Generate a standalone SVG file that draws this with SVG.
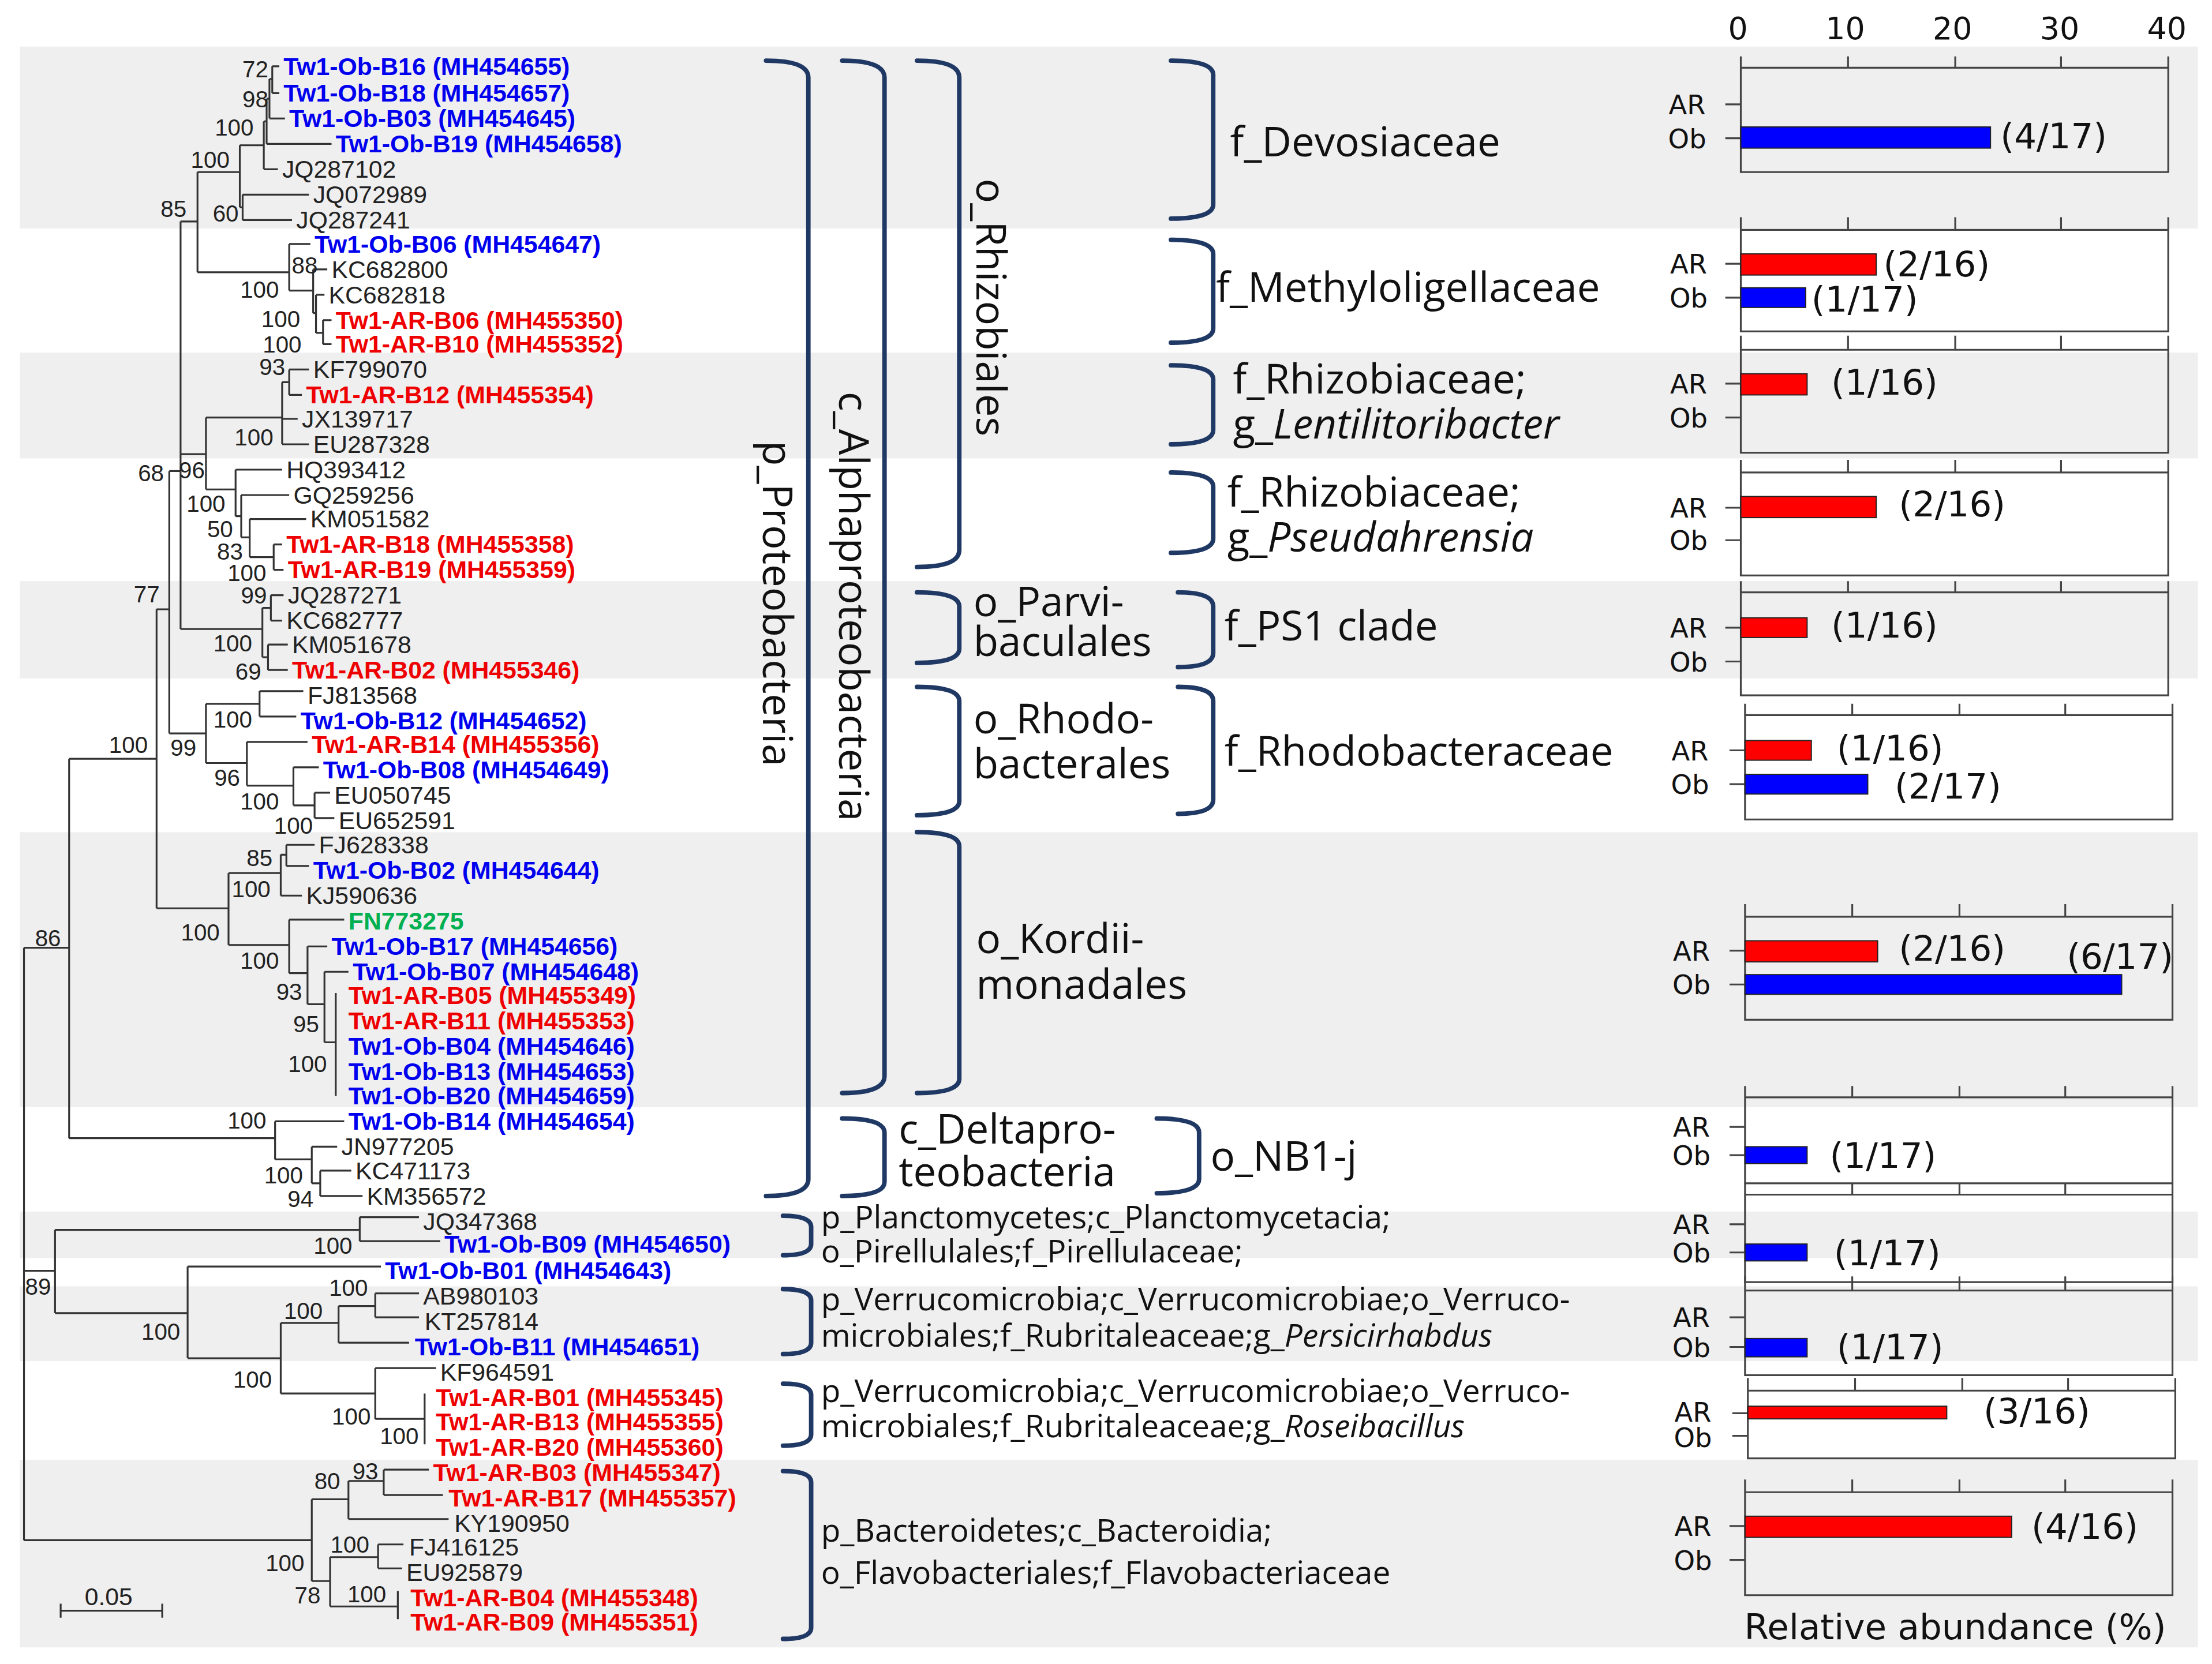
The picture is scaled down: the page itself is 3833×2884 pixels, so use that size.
<svg xmlns="http://www.w3.org/2000/svg" width="3833" height="2884" viewBox="0 0 3833 2884">
<style>
.band{fill:#efefef}
.tree{fill:none;stroke:#333;stroke-width:1.3}
.br{fill:none;stroke:#1f3864;stroke-width:3.2;stroke-linecap:round}
.lf{font-family:"Liberation Sans",Arial,sans-serif;font-size:17.5px;fill:#222}
.b{fill:#0000ee;font-weight:bold}
.r{fill:#ee0000;font-weight:bold}
.g{fill:#00b050;font-weight:bold}
.bs{font-family:"Liberation Sans",Arial,sans-serif;font-size:16.5px;fill:#222;text-anchor:middle}
.tx{font-family:"Open Sans","Noto Sans",sans-serif;font-size:29px;fill:#111}
.tx2{font-family:"Open Sans","Noto Sans",sans-serif;font-size:22.5px;fill:#111}
.ax{fill:none;stroke:#444;stroke-width:1.3}
.pl{font-family:"DejaVu Sans",sans-serif;font-size:19px;fill:#111}
.ab{font-family:"DejaVu Sans",sans-serif;font-size:25px;fill:#111}
.tk{font-family:"DejaVu Sans",sans-serif;font-size:22px;fill:#111}
.rb{fill:#ff0000;stroke:#222;stroke-width:0.8}
.bb{fill:#0000ff;stroke:#222;stroke-width:0.8}
</style>
<rect width="3833" height="2884" fill="#fff"/>
<g transform="scale(2.4445)">
<g id="bands">
<rect class="band" x="14" y="33" width="1544" height="129"/>
<rect class="band" x="14" y="250" width="1544" height="75"/>
<rect class="band" x="14" y="412" width="1544" height="69"/>
<rect class="band" x="14" y="590" width="1544" height="195"/>
<rect class="band" x="14" y="859" width="1544" height="33"/>
<rect class="band" x="14" y="912" width="1544" height="53"/>
<rect class="band" x="14" y="1035" width="1544" height="133"/>
</g>
<g id="connectors">
<path class="tree" d="M193 47V66M193 47H198M193 66H198M191 56V84M191 56H193M191 84H202M189 70V102M189 70H191M189 102H235M187 86V120M187 86H189M187 120H197M172 138V156M172 138H219M172 156H207M170 103V147M170 103H187M170 147H172M140 122H170
M229 227V244M229 227H235M229 244H235M224 209V236M224 209H230M224 236H229M222 191V222M222 191H232M222 222H224M205 173V206M205 173H220M205 206H222M140 193H205M140 122V193M128 157H140
M205 262V280M205 262H219M205 280H214M200 271V315M200 271H205M200 297H211M200 315H219M146 296H200
M194 386V404M194 386H200M194 404H201M177 368V395M177 368H217M177 395H194M171 351V381M171 351H205M171 381H177M167 333V366M167 333H200M167 366H171M146 296V347M146 347H167M128 322H146
M192 422V440M192 422H201M192 440H200M190 457V475M190 457H204M190 475H204M186 431V466M186 431H192M186 466H190M128 446H186M128 157V446M120 334H128
M184 490V508M184 490H215M184 508H210M146 499V541M146 499H184M146 541H175M175 526V557M175 526H218M175 557H208M208 544V571M208 544H226M208 571H223M223 562V580M223 562H234M223 580H237M120 520H146M120 334V520M111 432H120
M203 599V614M203 599H223M203 614H219M199 606V635M199 606H203M199 635H214M162 619V670M162 619H199M162 670H205M205 652V690M205 652H244M205 690H218M218 671V712M218 671H232M218 712H230M230 689V739M230 689H247M230 739H238M238 704V777M111 644H162M111 432V644M49 538H111
M195 795V822M195 795H244M221 813V839M221 813H239M227 830V848M227 830H249M227 848H257M221 839H227M195 822H221M49 807H195M49 538V807M17 672H49
M255 863V880M255 863H297M255 880H312M39 872H255M39 872V931M17 901H39M39 931H133M133 898V963M133 898H270M133 963H199M199 938V988M199 938H240M240 926V952M240 952H290M266 917V934M266 917H297M266 934H297M240 926H266M199 988H266M266 970V1006M266 970H309M266 1006H301M301 988V1024
M17 672V1092M17 1092H221M221 1063V1121M221 1063H247M247 1050V1077M247 1077H318M247 1050H272M272 1042V1060M272 1042H304M272 1060H314M221 1121H234M234 1104V1139M234 1104H268M268 1095V1112M268 1095H286M268 1112H285M234 1139H282M282 1128V1148
M43 1142H115M43 1137V1147M115 1137V1147"/>
</g>
<g id="leaves" class="lf">
<text x="201" y="53" class="b">Tw1-Ob-B16 (MH454655)</text>
<text x="201" y="72" class="b">Tw1-Ob-B18 (MH454657)</text>
<text x="205" y="90" class="b">Tw1-Ob-B03 (MH454645)</text>
<text x="238" y="108" class="b">Tw1-Ob-B19 (MH454658)</text>
<text x="200" y="126">JQ287102</text>
<text x="222" y="144">JQ072989</text>
<text x="210" y="162">JQ287241</text>
<text x="223" y="179" class="b">Tw1-Ob-B06 (MH454647)</text>
<text x="235" y="197">KC682800</text>
<text x="233" y="215">KC682818</text>
<text x="238" y="233" class="r">Tw1-AR-B06 (MH455350)</text>
<text x="238" y="250" class="r">Tw1-AR-B10 (MH455352)</text>
<text x="222" y="268">KF799070</text>
<text x="217" y="286" class="r">Tw1-AR-B12 (MH455354)</text>
<text x="214" y="303">JX139717</text>
<text x="222" y="321">EU287328</text>
<text x="203" y="339">HQ393412</text>
<text x="208" y="357">GQ259256</text>
<text x="220" y="374">KM051582</text>
<text x="203" y="392" class="r">Tw1-AR-B18 (MH455358)</text>
<text x="204" y="410" class="r">Tw1-AR-B19 (MH455359)</text>
<text x="204" y="428">JQ287271</text>
<text x="203" y="446">KC682777</text>
<text x="207" y="463">KM051678</text>
<text x="207" y="481" class="r">Tw1-AR-B02 (MH455346)</text>
<text x="218" y="499">FJ813568</text>
<text x="213" y="517" class="b">Tw1-Ob-B12 (MH454652)</text>
<text x="221" y="534" class="r">Tw1-AR-B14 (MH455356)</text>
<text x="229" y="552" class="b">Tw1-Ob-B08 (MH454649)</text>
<text x="237" y="570">EU050745</text>
<text x="240" y="588">EU652591</text>
<text x="226" y="605">FJ628338</text>
<text x="222" y="623" class="b">Tw1-Ob-B02 (MH454644)</text>
<text x="217" y="641">KJ590636</text>
<text x="247" y="659" class="g">FN773275</text>
<text x="235" y="677" class="b">Tw1-Ob-B17 (MH454656)</text>
<text x="250" y="695" class="b">Tw1-Ob-B07 (MH454648)</text>
<text x="247" y="712" class="r">Tw1-AR-B05 (MH455349)</text>
<text x="247" y="730" class="r">Tw1-AR-B11 (MH455353)</text>
<text x="247" y="748" class="b">Tw1-Ob-B04 (MH454646)</text>
<text x="247" y="766" class="b">Tw1-Ob-B13 (MH454653)</text>
<text x="247" y="783" class="b">Tw1-Ob-B20 (MH454659)</text>
<text x="247" y="801" class="b">Tw1-Ob-B14 (MH454654)</text>
<text x="242" y="819">JN977205</text>
<text x="252" y="836">KC471173</text>
<text x="260" y="854">KM356572</text>
<text x="300" y="872">JQ347368</text>
<text x="315" y="888" class="b">Tw1-Ob-B09 (MH454650)</text>
<text x="273" y="907" class="b">Tw1-Ob-B01 (MH454643)</text>
<text x="300" y="925">AB980103</text>
<text x="301" y="943">KT257814</text>
<text x="294" y="961" class="b">Tw1-Ob-B11 (MH454651)</text>
<text x="312" y="979">KF964591</text>
<text x="309" y="997" class="r">Tw1-AR-B01 (MH455345)</text>
<text x="309" y="1014" class="r">Tw1-AR-B13 (MH455355)</text>
<text x="309" y="1032" class="r">Tw1-AR-B20 (MH455360)</text>
<text x="307" y="1050" class="r">Tw1-AR-B03 (MH455347)</text>
<text x="318" y="1068" class="r">Tw1-AR-B17 (MH455357)</text>
<text x="322" y="1086">KY190950</text>
<text x="290" y="1103">FJ416125</text>
<text x="288" y="1121">EU925879</text>
<text x="291" y="1139" class="r">Tw1-AR-B04 (MH455348)</text>
<text x="291" y="1156" class="r">Tw1-AR-B09 (MH455351)</text>
<text x="60" y="1138">0.05</text>
</g>
<g id="bootstrap" class="bs">
<text x="181" y="55">72</text><text x="181" y="76">98</text><text x="166" y="96">100</text><text x="149" y="119">100</text>
<text x="123" y="154">85</text><text x="160" y="157">60</text><text x="216" y="194">88</text><text x="184" y="211">100</text>
<text x="199" y="232">100</text><text x="200" y="250">100</text><text x="193" y="266">93</text><text x="180" y="316">100</text>
<text x="107" y="341">68</text><text x="136" y="339">96</text><text x="146" y="363">100</text><text x="156" y="381">50</text>
<text x="163" y="397">83</text><text x="175" y="412">100</text><text x="104" y="427">77</text><text x="180" y="428">99</text>
<text x="165" y="462">100</text><text x="176" y="482">69</text><text x="165" y="516">100</text><text x="91" y="534">100</text>
<text x="130" y="536">99</text><text x="161" y="557">96</text><text x="184" y="574">100</text><text x="208" y="591">100</text>
<text x="184" y="614">85</text><text x="178" y="636">100</text><text x="142" y="667">100</text><text x="34" y="671">86</text>
<text x="184" y="687">100</text><text x="205" y="709">93</text><text x="217" y="732">95</text><text x="218" y="760">100</text>
<text x="175" y="800">100</text><text x="201" y="839">100</text><text x="213" y="856">94</text><text x="236" y="889">100</text>
<text x="27" y="918">89</text><text x="247" y="919">100</text><text x="215" y="935">100</text><text x="114" y="950">100</text>
<text x="179" y="984">100</text><text x="249" y="1010">100</text><text x="283" y="1024">100</text><text x="232" y="1056">80</text>
<text x="259" y="1049">93</text><text x="202" y="1114">100</text><text x="248" y="1101">100</text><text x="218" y="1137">78</text>
<text x="260" y="1136">100</text>
</g>
<g id="brackets">
<path class="br" d="M543 43Q573 43 573 55V836Q573 848 543 848"/>
<text class="tx" transform="translate(541 428) rotate(90)" text-anchor="middle" font-size="37">p_Proteobacteria</text>
<path class="br" d="M597 43Q627 43 627 55V763Q627 775 597 775"/>
<text class="tx" transform="translate(595 430) rotate(90)" text-anchor="middle" font-size="30">c_Alphaproteobacteria</text>
<path class="br" d="M650 43Q680 43 680 55V390Q680 402 650 402"/>
<text class="tx" transform="translate(692 218) rotate(90)" text-anchor="middle" font-size="30">o_Rhizobiales</text>
<path class="br" d="M650 420Q680 420 680 430V460Q680 470 650 470"/>
<text class="tx" x="690" y="437">o_Parvi-</text><text class="tx" x="690" y="465">baculales</text>
<path class="br" d="M650 487Q680 487 680 497V568Q680 578 650 578"/>
<text class="tx" x="690" y="520">o_Rhodo-</text><text class="tx" x="690" y="552">bacterales</text>
<path class="br" d="M650 590Q680 590 680 600V765Q680 775 650 775"/>
<text class="tx" x="692" y="676">o_Kordii-</text><text class="tx" x="692" y="708">monadales</text>
<path class="br" d="M597 793Q627 793 627 803V838Q627 848 597 848"/>
<text class="tx" x="637" y="811">c_Deltapro-</text><text class="tx" x="637" y="841">teobacteria</text>
<path class="br" d="M820 793Q850 793 850 803V836Q850 846 820 846"/>
<text class="tx" x="858" y="830">o_NB1-j</text>
<path class="br" d="M830 43Q860 43 860 53V145Q860 155 830 155"/>
<text class="tx" x="872" y="111">f_Devosiaceae</text>
<path class="br" d="M830 170Q860 170 860 180V233Q860 243 830 243"/>
<text class="tx" x="862" y="214">f_Methyloligellaceae</text>
<path class="br" d="M830 259Q860 259 860 269V305Q860 315 830 315"/>
<text class="tx" x="874" y="279">f_Rhizobiaceae;</text><text class="tx" x="874" y="311">g_<tspan font-style="italic">Lentilitoribacter</tspan></text>
<path class="br" d="M830 335Q860 335 860 345V382Q860 392 830 392"/>
<text class="tx" x="870" y="359">f_Rhizobiaceae;</text><text class="tx" x="870" y="391">g_<tspan font-style="italic">Pseudahrensia</tspan></text>
<path class="br" d="M835 420Q860 420 860 430V463Q860 473 835 473"/>
<text class="tx" x="868" y="454">f_PS1 clade</text>
<path class="br" d="M835 487Q860 487 860 497V567Q860 577 835 577"/>
<text class="tx" x="868" y="543">f_Rhodobacteraceae</text>
<path class="br" d="M555 862Q575 862 575 870V882Q575 890 555 890"/>
<text class="tx2" x="582" y="871">p_Planctomycetes;c_Planctomycetacia;</text><text class="tx2" x="582" y="895">o_Pirellulales;f_Pirellulaceae;</text>
<path class="br" d="M555 914Q575 914 575 922V952Q575 960 555 960"/>
<text class="tx2" x="582" y="929">p_Verrucomicrobia;c_Verrucomicrobiae;o_Verruco-</text><text class="tx2" x="582" y="955">microbiales;f_Rubritaleaceae;g_<tspan font-style="italic">Persicirhabdus</tspan></text>
<path class="br" d="M555 981Q575 981 575 989V1017Q575 1025 555 1025"/>
<text class="tx2" x="582" y="994">p_Verrucomicrobia;c_Verrucomicrobiae;o_Verruco-</text><text class="tx2" x="582" y="1019">microbiales;f_Rubritaleaceae;g_<tspan font-style="italic">Roseibacillus</tspan></text>
<path class="br" d="M555 1043Q575 1043 575 1051V1154Q575 1162 555 1162"/>
<text class="tx2" x="582" y="1093">p_Bacteroidetes;c_Bacteroidia;</text><text class="tx2" x="582" y="1123">o_Flavobacteriales;f_Flavobacteriaceae</text>
</g>
<g id="barchart">
<g class="tk" text-anchor="middle"><text x="1232" y="28">0</text><text x="1308" y="28">10</text><text x="1384" y="28">20</text><text x="1460" y="28">30</text><text x="1536" y="28">40</text></g>
<path class="ax" d="M1234 40V122H1537V40M1234 48H1537M1310 40V48M1386 40V48M1461 40V48M1223 74H1234M1223 98H1234"/>
<rect class="bb" x="1234" y="90" width="177" height="15"/>
<path class="ax" d="M1234 154V235H1537V154M1234 163H1537M1310 154V163M1386 154V163M1461 154V163M1223 187H1234M1223 211H1234"/>
<rect class="rb" x="1234" y="180" width="96" height="15"/><rect class="bb" x="1234" y="204" width="46" height="14"/>
<path class="ax" d="M1234 238V321H1537V238M1234 248H1537M1310 238V248M1386 238V248M1461 238V248M1223 272H1234M1223 296H1234"/>
<rect class="rb" x="1234" y="265" width="47" height="15"/>
<path class="ax" d="M1234 326V408H1537V326M1234 335H1537M1310 326V335M1386 326V335M1461 326V335M1223 360H1234M1223 383H1234"/>
<rect class="rb" x="1234" y="352" width="96" height="15"/>
<path class="ax" d="M1234 412V493H1537V412M1234 420H1537M1310 412V420M1386 412V420M1461 412V420M1223 445H1234M1223 469H1234"/>
<rect class="rb" x="1234" y="438" width="47" height="14"/>
<path class="ax" d="M1237 499V581H1540V499M1237 507H1540M1313 499V507M1389 499V507M1464 499V507M1226 532H1237M1226 556H1237"/>
<rect class="rb" x="1237" y="525" width="47" height="14"/><rect class="bb" x="1237" y="549" width="87" height="14"/>
<path class="ax" d="M1237 641V723H1540V641M1237 650H1540M1313 641V650M1389 641V650M1464 641V650M1226 674H1237M1226 698H1237"/>
<rect class="rb" x="1237" y="667" width="94" height="15"/><rect class="bb" x="1237" y="691" width="267" height="14"/>
<path class="ax" d="M1237 770V839H1540V770M1237 778H1540M1313 770V778M1389 770V778M1464 770V778M1226 799H1237M1226 819H1237"/>
<rect class="bb" x="1237" y="813" width="44" height="12"/>
<path class="ax" d="M1237 839V909H1540V839M1237 847H1540M1313 839V847M1389 839V847M1464 839V847M1226 868H1237M1226 888H1237"/>
<rect class="bb" x="1237" y="882" width="44" height="12"/>
<path class="ax" d="M1237 905V975H1540V905M1237 915H1540M1313 905V915M1389 905V915M1464 905V915M1226 934H1237M1226 955H1237"/>
<rect class="bb" x="1237" y="949" width="44" height="13"/>
<path class="ax" d="M1239 977V1034H1542V977M1239 986H1542M1315 977V986M1391 977V986M1466 977V986M1228 1002H1239M1228 1018H1239"/>
<rect class="rb" x="1239" y="997" width="141" height="9"/>
<path class="ax" d="M1237 1049V1131H1540V1049M1237 1058H1540M1313 1049V1058M1389 1049V1058M1464 1049V1058M1226 1082H1237M1226 1106H1237"/>
<rect class="rb" x="1237" y="1075" width="189" height="15"/>
<g class="pl" text-anchor="middle">
<text x="1196" y="81">AR</text><text x="1196" y="105">Ob</text>
<text x="1197" y="194">AR</text><text x="1197" y="218">Ob</text>
<text x="1197" y="279">AR</text><text x="1197" y="303">Ob</text>
<text x="1197" y="367">AR</text><text x="1197" y="390">Ob</text>
<text x="1197" y="452">AR</text><text x="1197" y="476">Ob</text>
<text x="1198" y="539">AR</text><text x="1198" y="563">Ob</text>
<text x="1199" y="681">AR</text><text x="1199" y="705">Ob</text>
<text x="1199" y="806">AR</text><text x="1199" y="826">Ob</text>
<text x="1199" y="875">AR</text><text x="1199" y="895">Ob</text>
<text x="1199" y="941">AR</text><text x="1199" y="962">Ob</text>
<text x="1200" y="1008">AR</text><text x="1200" y="1026">Ob</text>
<text x="1200" y="1089">AR</text><text x="1200" y="1113">Ob</text>
</g>
<g class="ab">
<text x="1418" y="105">(4/17)</text>
<text x="1335" y="196">(2/16)</text><text x="1284" y="221">(1/17)</text>
<text x="1298" y="280">(1/16)</text>
<text x="1346" y="366">(2/16)</text>
<text x="1298" y="452">(1/16)</text>
<text x="1302" y="539">(1/16)</text><text x="1343" y="566">(2/17)</text>
<text x="1346" y="681">(2/16)</text><text x="1465" y="687">(6/17)</text>
<text x="1297" y="828">(1/17)</text>
<text x="1300" y="897">(1/17)</text>
<text x="1302" y="964">(1/17)</text>
<text x="1406" y="1009">(3/16)</text>
<text x="1440" y="1091">(4/16)</text>
</g>
<text class="ab" x="1386" y="1162" text-anchor="middle" font-size="31">Relative abundance (%)</text>
</g>
</g>
</svg>
